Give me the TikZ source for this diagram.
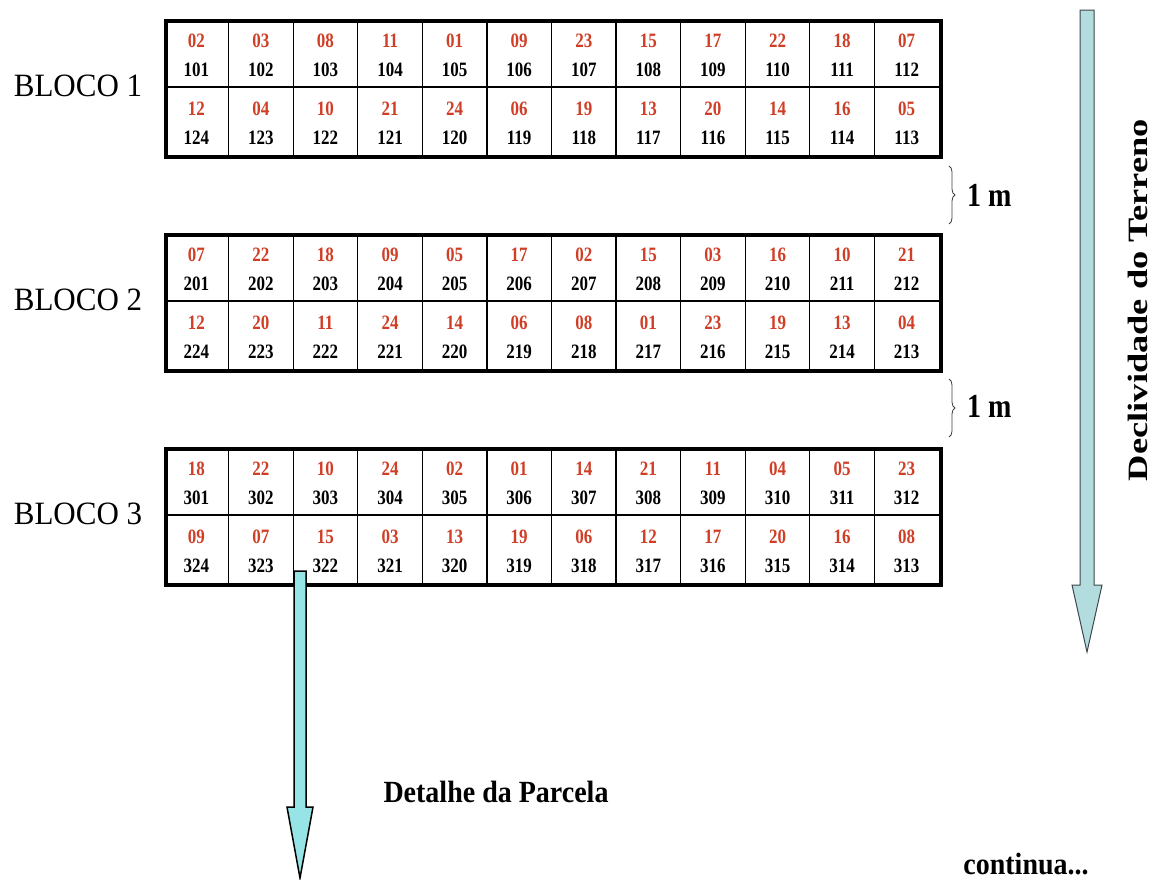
\documentclass[tikz,border=0pt]{standalone}
\usepackage{fontspec}
\setmainfont{Liberation Serif}
\usetikzlibrary{decorations.pathreplacing}
\definecolor{numred}{RGB}{208,62,38}
\definecolor{slopefill}{RGB}{178,220,222}
\definecolor{slopeline}{RGB}{60,72,75}
\definecolor{detailfill}{RGB}{150,228,230}
\newcommand\plotrow[4]{%
  \foreach \v [count=\c] in {#4} {
    \pgfmathsetmacro\cx{164+(\c-0.5)*64.583}
    \pgfmathtruncatemacro\num{#2==1 ? #1*100+\c : #1*100+25-\c}
    \node[rednum] (r#1-#2-\c) at (\cx,#3+22) {\v};
    \node[blknum] (n#1-#2-\c) at (\cx,#3+51) {\num};
  }%
}
\begin{document}
\begin{tikzpicture}[x=1pt,y=-1pt,
  rednum/.style={text=numred,font=\bfseries\fontsize{17}{17}\selectfont,yscale=1.2,inner sep=0pt},
  blknum/.style={text=black,font=\bfseries\fontsize{17}{17}\selectfont,yscale=1.2,inner sep=0pt},
  blockbox/.style={draw,line width=3.8pt,minimum width=775pt,minimum height=136pt,anchor=north west,inner sep=0pt},
  gridline/.style={line width=1.2pt},
  blocklabel/.style={font=\fontsize{31}{31}\selectfont,yscale=1.05,inner sep=0pt},
  gaplabel/.style={font=\bfseries\fontsize{28}{28}\selectfont,yscale=1.2,inner sep=0pt,anchor=west},
  gapbrace/.style={decorate,decoration={brace,amplitude=6pt},line width=0.8pt,draw=black!75},
  bigtext/.style={font=\bfseries\fontsize{28}{28}\selectfont,inner sep=0pt}
]
\useasboundingbox (0,0) rectangle (1155,879);
\fill[white] (0,0) rectangle (1155,879);

% blocks
\foreach \b/\t in {1/19,2/233,3/447} {
  \foreach \k in {1,...,11} {
    \draw[gridline] ({164+\k*64.583},\t) -- ({164+\k*64.583},\t+136);
  }
  \draw[gridline] (164,\t+68) -- (939,\t+68);
  \node[blockbox] (block\b) at (164,\t) {};
}
\plotrow{1}{1}{19}{02,03,08,11,01,09,23,15,17,22,18,07}
\plotrow{1}{2}{87}{12,04,10,21,24,06,19,13,20,14,16,05}
\plotrow{2}{1}{233}{07,22,18,09,05,17,02,15,03,16,10,21}
\plotrow{2}{2}{301}{12,20,11,24,14,06,08,01,23,19,13,04}
\plotrow{3}{1}{447}{18,22,10,24,02,01,14,21,11,04,05,23}
\plotrow{3}{2}{515}{09,07,15,03,13,19,06,12,17,20,16,08}

% block labels
\node[blocklabel] (lab1) at (78,86) {BLOCO 1};
\node[blocklabel] (lab2) at (78,300) {BLOCO 2};
\node[blocklabel] (lab3) at (78,514) {BLOCO 3};

% braces
\coordinate (br1a) at (949,166);
\coordinate (br1b) at (949,224);
\coordinate (br2a) at (949,379);
\coordinate (br2b) at (949,437);
\draw[gapbrace] (br1a) -- (br1b);
\draw[gapbrace] (br2a) -- (br2b);
\node[gaplabel] (gap1) at (967,195) {1 m};
\node[gaplabel] (gap2) at (967,406) {1 m};

% slope arrow
\draw[fill=slopefill,draw=slopeline,line width=1pt]
  (1080,10) -- (1094,10) -- (1094,585) -- (1102,585) -- (1087,652)
  -- (1072,585) -- (1080,585) -- cycle;
\node[bigtext,rotate=90,xscale=1.3] (slope) at (1138,300) {Declividade do Terreno};

% detail arrow
\draw[fill=detailfill,draw=black,line width=1.5pt]
  (294,571) -- (306,571) -- (306,807) -- (313,807) -- (300,878)
  -- (287,807) -- (294,807) -- cycle;
\node[bigtext,yscale=1.1] (detail) at (496,792) {Detalhe da Parcela};
\node[bigtext,yscale=1.1,anchor=base] (cont) at (1026,874) {continua...};
\end{tikzpicture}
\end{document}
